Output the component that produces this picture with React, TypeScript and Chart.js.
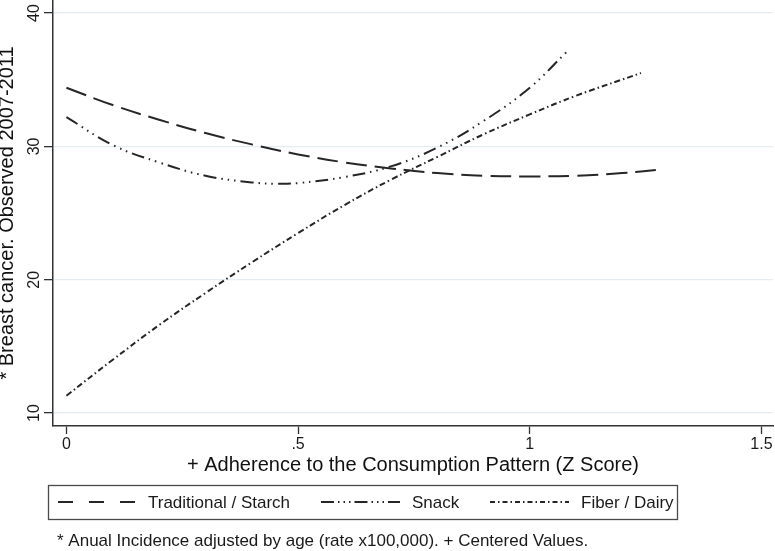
import React, { useEffect, useRef } from 'react';
import { Chart, registerables } from 'chart.js';

Chart.register(...registerables);

const FONT = '"Liberation Sans", Arial, Helvetica, sans-serif';

const seriesNames = ['Traditional / Starch', 'Snack', 'Fiber / Dairy'];

const tradX = [0, 0.1, 0.2, 0.3, 0.4, 0.5, 0.6, 0.7, 0.8, 0.9, 1.0, 1.1, 1.2, 1.28];
const tradY = [34.4, 33.1, 32.0, 31.0, 30.15, 29.4, 28.8, 28.35, 28.0, 27.8, 27.75, 27.8, 28.0, 28.25];

const snackX = [0, 0.1, 0.2, 0.3, 0.4, 0.45, 0.5, 0.6, 0.7, 0.8, 0.9, 1.0, 1.08];
const snackY = [32.2, 30.1, 28.8, 27.8, 27.3, 27.2, 27.25, 27.7, 28.5, 29.9, 31.9, 34.4, 37.1];

const fiberX = [0, 0.1, 0.2, 0.3, 0.4, 0.5, 0.6, 0.7, 0.8, 0.9, 1.0, 1.1, 1.24];
const fiberY = [11.3, 14.0, 16.6, 19.0, 21.3, 23.5, 25.6, 27.5, 29.2, 30.9, 32.4, 33.8, 35.5];

const xTicks = [0, 0.5, 1, 1.5];
const xTickLabels = ['0', '.5', '1', '1.5'];
const yTicks = [10, 20, 30, 40];
const yTickLabels = ['10', '20', '30', '40'];

const xTitle = '+ Adherence to the Consumption Pattern (Z Score)';
const yTitle = '* Breast cancer. Observed 2007-2011';
const note = '* Anual Incidence adjusted by age (rate x100,000). + Centered Values.';

const plotDashes = [
  [21, 8],
  [13, 5, 1.5, 5, 1.5, 5, 1.5, 5],
  [6, 3, 1.5, 3],
];
const legendDashes = [
  [15, 16],
  [13, 4, 1.5, 4, 1.5, 4, 1.5, 4],
  [5, 3, 1.5, 3],
];

const LINE = '#262626';

const toPts = (xs: number[], ys: number[]) => xs.map((x, i) => ({ x, y: ys[i] }));

const legendPlugin = {
  id: 'stataLegend',
  afterDraw(chart: any) {
    const ctx = chart.ctx as CanvasRenderingContext2D;
    ctx.save();
    // legend box
    ctx.strokeStyle = '#4a4a4a';
    ctx.lineWidth = 1.3;
    ctx.strokeRect(48.5, 485.5, 629, 34);
    const items = [
      { x0: 58, x1: 135, tx: 148 },
      { x0: 321, x1: 400, tx: 412 },
      { x0: 490, x1: 569, tx: 581 },
    ];
    const ly = 502;
    items.forEach((it, i) => {
      ctx.beginPath();
      ctx.setLineDash(legendDashes[i]);
      ctx.strokeStyle = LINE;
      ctx.lineWidth = 2;
      ctx.moveTo(it.x0, ly);
      ctx.lineTo(it.x1, ly);
      ctx.stroke();
      ctx.setLineDash([]);
      ctx.fillStyle = '#1a1a1a';
      ctx.font = `17px ${FONT}`;
      ctx.textBaseline = 'middle';
      ctx.textAlign = 'left';
      ctx.fillText(seriesNames[i], it.tx, ly + 1);
    });
    ctx.fillStyle = '#1a1a1a';
    ctx.font = `17px ${FONT}`;
    ctx.textBaseline = 'middle';
    ctx.textAlign = 'left';
    ctx.fillText(note, 57, 541);
    ctx.restore();
  },
};

export default function App() {
  const ref = useRef<HTMLCanvasElement | null>(null);

  useEffect(() => {
    document.body.style.margin = '0';
    document.body.style.background = '#ffffff';
    const canvas = ref.current;
    if (!canvas) return;
    const series = [toPts(tradX, tradY), toPts(snackX, snackY), toPts(fiberX, fiberY)];
    const chart = new Chart(canvas, {
      type: 'line',
      data: {
        datasets: series.map((d, i) => ({
          label: seriesNames[i],
          data: d,
          borderColor: LINE,
          borderWidth: 2,
          borderDash: plotDashes[i],
          pointRadius: 0,
          fill: false,
          tension: 0.4,
        })),
      },
      options: {
        responsive: false,
        animation: false,
        devicePixelRatio: 1,
        layout: { padding: { top: 0, right: 2, bottom: 73, left: 0 } },
        plugins: { legend: { display: false }, tooltip: { enabled: false } },
        scales: {
          x: {
            type: 'linear',
            min: -0.029,
            max: 1.525,
            afterBuildTicks: (s: any) => {
              s.ticks = xTicks.map((v) => ({ value: v }));
            },
            afterFit: (s: any) => {
              s.height = 52;
              s.paddingLeft = 0;
              s.paddingRight = 0;
            },
            grid: { drawOnChartArea: false, tickLength: 8, tickColor: '#333', tickWidth: 1.3 },
            border: { color: '#333', width: 1.5 },
            ticks: {
              autoSkip: false,
              maxRotation: 0,
              minRotation: 0,
              padding: 1,
              color: '#1a1a1a',
              font: { size: 16, family: FONT },
              callback: (_v: any, i: number) => xTickLabels[i],
            },
            title: {
              display: true,
              text: xTitle,
              color: '#111',
              font: { size: 20, family: FONT, lineHeight: 1.2 },
              padding: { top: 0, bottom: 1 },
            },
          },
          y: {
            type: 'linear',
            min: 9.03,
            max: 40.98,
            afterBuildTicks: (s: any) => {
              s.ticks = yTicks.map((v) => ({ value: v }));
            },
            afterFit: (s: any) => {
              s.width = 53;
              s.paddingTop = 0;
              s.paddingBottom = 0;
            },
            grid: { color: '#e4edf1', lineWidth: 1.3, tickLength: 9, tickColor: '#333', tickWidth: 1.3 },
            border: { color: '#333', width: 1.5 },
            ticks: {
              autoSkip: false,
              minRotation: 90,
              maxRotation: 90,
              crossAlign: 'center',
              padding: 1,
              color: '#1a1a1a',
              font: { size: 16, family: FONT },
              callback: (_v: any, i: number) => yTickLabels[i],
            },
            title: {
              display: true,
              text: yTitle,
              color: '#111',
              font: { size: 20, family: FONT, lineHeight: 1 },
              padding: { top: -3, bottom: 0 },
            },
          },
        },
      },
      plugins: [legendPlugin],
    } as any);
    return () => chart.destroy();
  }, []);

  return (
    <div style={{ width: 775, height: 551, background: '#fff' }}>
      <canvas ref={ref} width={775} height={551} style={{ display: 'block' }} />
    </div>
  );
}
